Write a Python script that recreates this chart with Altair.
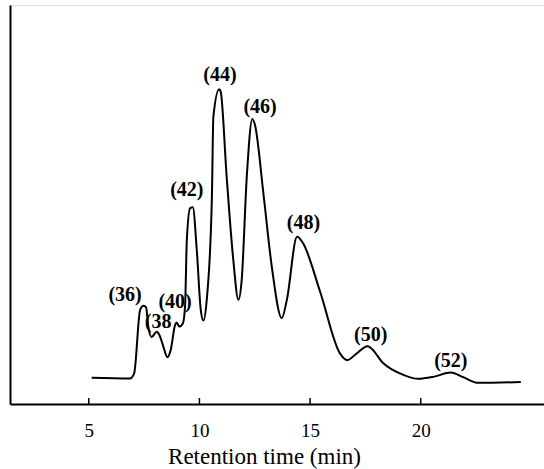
import altair as alt
import pandas as pd

# Chromatogram trace (retention time in min, detector response in arbitrary units)
time_min = [5.13, 6.86, 7.05, 7.32, 7.47, 7.59, 7.69, 7.84, 8.07, 8.19, 8.37, 8.55,
            8.70, 8.90, 8.97, 9.09, 9.25, 9.35, 9.43, 9.58, 9.70, 9.88, 10.06, 10.18,
            10.33, 10.56, 10.63, 10.89, 10.96, 11.23, 11.53, 11.76, 11.91, 12.14, 12.39,
            12.51, 12.89, 13.27, 13.72, 13.95, 14.41, 14.66, 15.45, 16.35, 16.68,
            17.11, 17.59, 17.71, 18.31, 19.21, 19.88, 20.57, 21.36, 21.93, 22.60, 24.52]
response = [6.6, 6.4, 7.7, 23.6, 24.6, 24.2, 19.4, 16.8, 18.1, 17.3, 14.4, 11.7,
            13.5, 19.8, 20.4, 19.4, 20.2, 24.4, 41.1, 49.1, 49.3, 38.6, 23.6, 20.9,
            26.1, 51.1, 72.0, 78.9, 78.3, 57.0, 36.1, 26.1, 31.1, 57.0, 71.4,
            69.9, 52.8, 34.4, 21.5, 26.1, 41.9, 40.5, 28.2, 12.7, 11.0,
            12.7, 14.5, 14.2, 10.2, 7.3, 6.3, 6.8, 7.9, 6.7, 5.3, 5.5]

# Peak annotations
peak_labels = ["(36)", "(38", "(40)", "(42)", "(44)", "(46)", "(48)", "(50)", "(52)"]
label_time = [6.64, 8.13, 8.90, 9.43, 10.93, 12.74, 14.70, 17.74, 21.36]
label_resp = [27.3, 20.6, 25.6, 53.6, 82.5, 74.5, 45.3, 17.3, 10.9]

tick_values = [5, 10, 15, 20]

trace = pd.DataFrame({"t": time_min, "r": response})
labels = pd.DataFrame({"t": label_time, "r": label_resp, "label": peak_labels})
ticks = pd.DataFrame({"t": tick_values})

xscale = alt.Scale(domain=[1.44, 25.57], nice=False, zero=False)
yscale = alt.Scale(domain=[0, 100], nice=False, zero=True)

SERIF = "Liberation Serif"

line = alt.Chart(trace).mark_line(
    color="black", strokeWidth=2, interpolate="monotone"
).encode(
    x=alt.X("t:Q", scale=xscale,
            axis=alt.Axis(values=tick_values, ticks=False, grid=False,
                          domainColor="black", domainWidth=2,
                          labelFont=SERIF, labelFontSize=19, labelColor="black",
                          labelPadding=17, format="d",
                          title="Retention time (min)", titleFont=SERIF,
                          titleFontSize=23, titleFontWeight="normal",
                          titleColor="black", titlePadding=5,
                          titleX=254, titleAlign="center")),
    y=alt.Y("r:Q", scale=yscale,
            axis=alt.Axis(labels=False, ticks=False, grid=False, title=None,
                          domainColor="black", domainWidth=2)),
)

tickmarks = alt.Chart(ticks).mark_rule(color="black", strokeWidth=1.5).encode(
    x=alt.X("t:Q", scale=xscale),
    y=alt.value(393),
    y2=alt.value(399),
)

text = alt.Chart(labels).mark_text(
    font=SERIF, fontSize=20, fontWeight="bold", color="black",
    align="center", baseline="middle"
).encode(
    x=alt.X("t:Q", scale=xscale),
    y=alt.Y("r:Q", scale=yscale),
    text="label:N",
)

chart = alt.layer(line, tickmarks, text).properties(
    width=534, height=399,
    autosize=alt.AutoSizeParams(type="none"),
    padding={"left": 10, "top": 5, "right": 0, "bottom": 65},
).configure_view(stroke=None).configure(background="white")

chart.save("out.html", embed_options={"renderer": "svg", "actions": False})
